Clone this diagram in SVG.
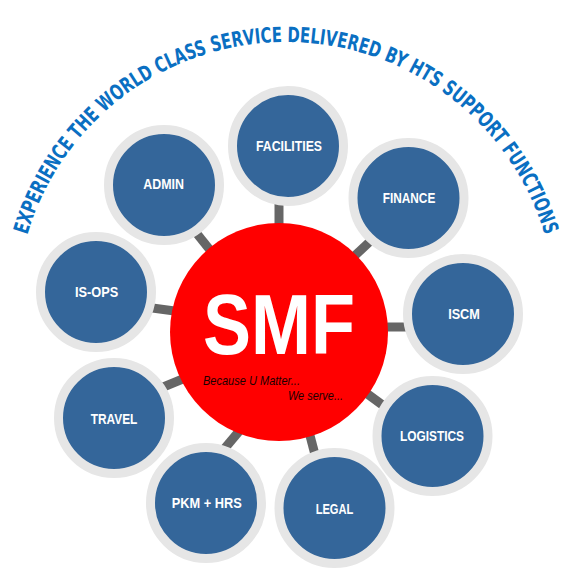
<svg xmlns="http://www.w3.org/2000/svg" width="575" height="577" viewBox="0 0 575 577">
<style>
.ring{fill:#34669a;stroke:#e6e6e6;stroke-width:9}
.lbl{font-family:"Liberation Sans",Arial,sans-serif;font-weight:bold;font-size:15px;fill:#ffffff;text-anchor:middle}
.con{stroke:#666666;stroke-width:9;fill:none}
.arc{font-family:"DejaVu Sans Condensed","DejaVu Sans",sans-serif;font-stretch:condensed;font-weight:bold;font-size:21px;fill:#0a6fc2}
.tag{font-family:"Liberation Sans",Arial,sans-serif;font-style:italic;font-size:13.5px;fill:#1a0000}
</style>
<defs>
<path id="arcPath" d="M27.2,235 A270,270 0 0 1 544.8,235"/>
</defs>
<rect width="575" height="577" fill="#ffffff"/>
<g id="title">
<text class="arc"><textPath href="#arcPath" startOffset="0" textLength="141.1" lengthAdjust="spacingAndGlyphs">EXPERIENCE THE</textPath></text>
<text class="arc"><textPath href="#arcPath" startOffset="146.2" textLength="294.2" lengthAdjust="spacingAndGlyphs">WORLD CLASS SERVICE DELIVERED</textPath></text>
<text class="arc"><textPath href="#arcPath" startOffset="445.6" textLength="144.3" lengthAdjust="spacingAndGlyphs">BY HTS SUPPORT</textPath></text>
<text class="arc"><textPath href="#arcPath" startOffset="595.1" textLength="96.9" lengthAdjust="spacingAndGlyphs">FUNCTIONS</textPath></text>
</g>
<g id="connectors">
<line class="con" x1="279" y1="235" x2="279" y2="195"/>
<line class="con" x1="190" y1="225" x2="218" y2="260"/>
<line class="con" x1="378" y1="234" x2="348" y2="262"/>
<line class="con" x1="378" y1="327" x2="412" y2="327"/>
<line class="con" x1="358" y1="387" x2="392" y2="412"/>
<line class="con" x1="145" y1="307" x2="182" y2="312"/>
<line class="con" x1="156" y1="390" x2="190" y2="376"/>
<line class="con" x1="220" y1="454" x2="246" y2="423"/>
<line class="con" x1="308" y1="428" x2="318" y2="466"/>
</g>
<g id="smf">
<circle cx="279" cy="332" r="109" fill="#ff0000"/>
<text x="279" y="354" font-family="Liberation Sans,Arial,sans-serif" font-weight="bold" font-size="86" fill="#ffffff" text-anchor="middle" textLength="152" lengthAdjust="spacingAndGlyphs">SMF</text>
<text class="tag" x="203" y="385" textLength="97" lengthAdjust="spacingAndGlyphs">Because U Matter...</text>
<text class="tag" x="288" y="400" textLength="55" lengthAdjust="spacingAndGlyphs">We serve...</text>
</g>
<g id="facilities"><circle class="ring" cx="288" cy="146" r="55.5"/><text class="lbl" x="289" y="150.7" textLength="66" lengthAdjust="spacingAndGlyphs">FACILITIES</text></g>
<g id="admin"><circle class="ring" cx="164" cy="185" r="55.5"/><text class="lbl" x="163.7" y="189.3" textLength="40.7" lengthAdjust="spacingAndGlyphs">ADMIN</text></g>
<g id="finance"><circle class="ring" cx="408.5" cy="198" r="55.5"/><text class="lbl" x="409" y="203.3" textLength="52.6" lengthAdjust="spacingAndGlyphs">FINANCE</text></g>
<g id="isops"><circle class="ring" cx="96" cy="292" r="55.5"/><text class="lbl" x="96.7" y="296.7" textLength="43.3" lengthAdjust="spacingAndGlyphs">IS-OPS</text></g>
<g id="iscm"><circle class="ring" cx="463" cy="314" r="55.5"/><text class="lbl" x="464" y="319.3" textLength="31.7" lengthAdjust="spacingAndGlyphs">ISCM</text></g>
<g id="travel"><circle class="ring" cx="114" cy="418" r="55.5"/><text class="lbl" x="114" y="424" textLength="46.7" lengthAdjust="spacingAndGlyphs">TRAVEL</text></g>
<g id="logistics"><circle class="ring" cx="432.5" cy="436" r="55.5"/><text class="lbl" x="432" y="440.7" textLength="64" lengthAdjust="spacingAndGlyphs">LOGISTICS</text></g>
<g id="pkmhrs"><circle class="ring" cx="206" cy="503" r="55.5"/><text class="lbl" x="206.7" y="508.3" textLength="70" lengthAdjust="spacingAndGlyphs">PKM + HRS</text></g>
<g id="legal"><circle class="ring" cx="334.5" cy="508" r="55.5"/><text class="lbl" x="334.5" y="514" textLength="37.7" lengthAdjust="spacingAndGlyphs">LEGAL</text></g>
</svg>
